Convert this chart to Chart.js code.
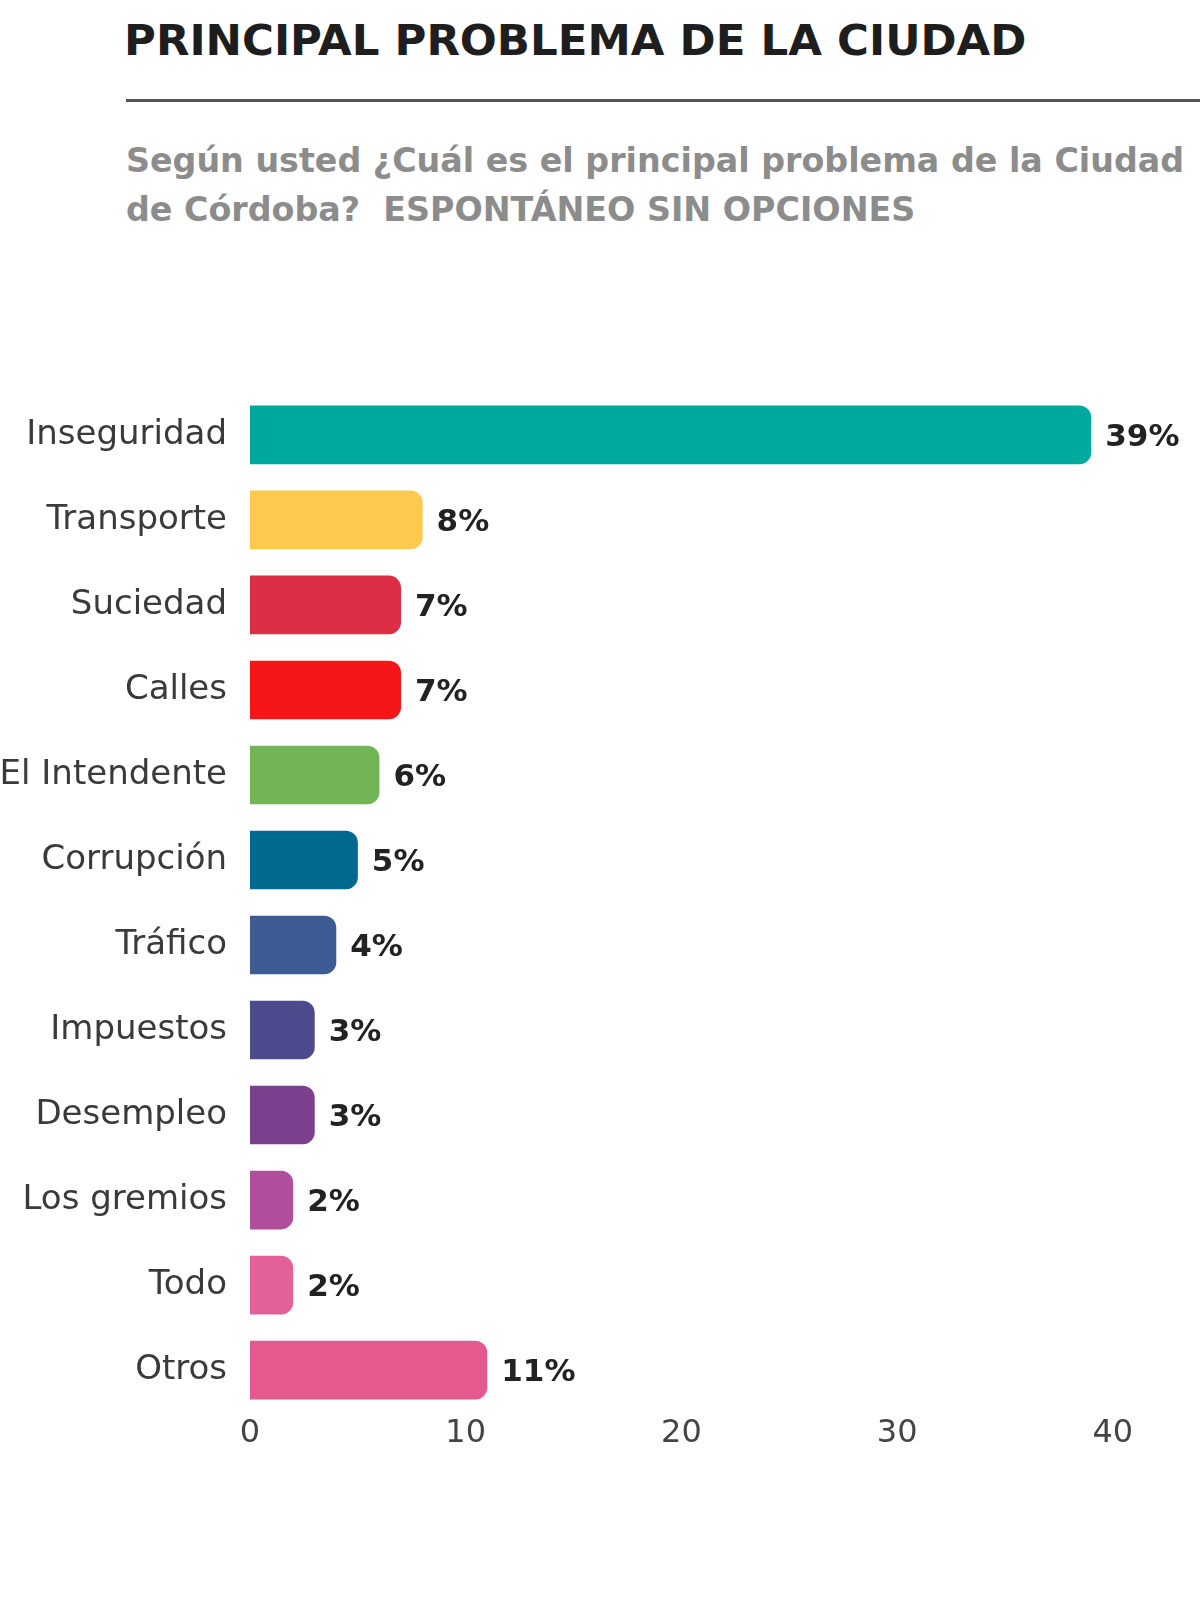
<!DOCTYPE html>
<html>
<head>
<meta charset="utf-8">
<script src="https://cdn.jsdelivr.net/npm/chart.js@4.4.1/dist/chart.umd.min.js"></script>
<style>
  body { margin: 0; background: #fff; width: 1200px; height: 1600px; position: relative; overflow: hidden; font-family: "DejaVu Sans", sans-serif; }
  #titulo { position: absolute; left: 124px; top: 14px; margin: 0; font-size: 43.5px; font-weight: bold; color: #1e1e1e; white-space: nowrap; line-height: 52px; }
  #linea { position: absolute; left: 126px; top: 99px; width: 1074px; height: 3px; background: #555; }
  #sub { position: absolute; left: 126px; top: 136px; margin: 0; font-size: 33.3px; font-weight: bold; color: #8c8c8c; line-height: 49px; white-space: nowrap; }
  #caja { position: absolute; left: 0; top: 357px; width: 1200px; height: 1091px; }
</style>
</head>
<body>
<h1 id="titulo">PRINCIPAL PROBLEMA DE LA CIUDAD</h1>
<div id="linea"></div>
<p id="sub">Según usted ¿Cuál es el principal problema de la Ciudad<br>de Córdoba?&nbsp; ESPONTÁNEO SIN OPCIONES</p>
<div id="caja"><canvas id="grafico"></canvas></div>
<script>
// datos
const categorias = ['Inseguridad', 'Transporte', 'Suciedad', 'Calles', 'El Intendente', 'Corrupción',
    'Tráfico', 'Impuestos', 'Desempleo', 'Los gremios', 'Todo', 'Otros'];
const porcentajes = [39, 8, 7, 7, 6, 5, 4, 3, 3, 2, 2, 11];
const colores = ['#00A99D', '#FDC94F', '#DC2F45', '#F5161A', '#71B556', '#006A8E',
    '#3E5C94', '#4E4A8E', '#7B3F8E', '#B04E9E', '#E2619A', '#E55A8E'];
const ticksX = [0, 10, 20, 30, 40];

// etiquetas "39%" al final de cada barra
const etiquetas = {
    id: 'etiquetas',
    afterDatasetsDraw(chart) {
        const ctx = chart.ctx;
        const meta = chart.getDatasetMeta(0);
        ctx.save();
        ctx.font = 'bold 31px "DejaVu Sans"';
        ctx.fillStyle = '#222';
        ctx.textBaseline = 'middle';
        meta.data.forEach((bar, i) => {
            ctx.fillText(porcentajes[i] + '%', bar.x + 14, bar.y + 3);
        });
        ctx.restore();
    }
};

new Chart(document.getElementById('grafico'), {
    type: 'bar',
    data: {
        labels: categorias,
        datasets: [{
            data: porcentajes,
            backgroundColor: colores,
            borderRadius: { topRight: 12, bottomRight: 12 },
            borderSkipped: false,
            barPercentage: 0.69,
            categoryPercentage: 1
        }]
    },
    options: {
        indexAxis: 'y',
        responsive: true,
        maintainAspectRatio: false,
        animation: false,
        layout: { padding: { top: 0, right: 44, left: 0, bottom: 0 } },
        plugins: { legend: { display: false }, tooltip: { enabled: false } },
        scales: {
            x: {
                min: 0, max: 42,
                grid: { display: false }, border: { display: false },
                afterBuildTicks: (s) => { s.ticks = ticksX.map(v => ({ value: v })); },
                ticks: { font: { size: 32, family: '"DejaVu Sans"' }, color: '#444', padding: -6 }
            },
            y: {
                grid: { display: false }, border: { display: false },
                afterFit: (s) => { s.width = 250; },
                ticks: { font: { size: 34, family: '"DejaVu Sans"' }, color: '#3a3a3a', padding: 15 }
            }
        }
    },
    plugins: [etiquetas]
});
</script>
</body>
</html>
